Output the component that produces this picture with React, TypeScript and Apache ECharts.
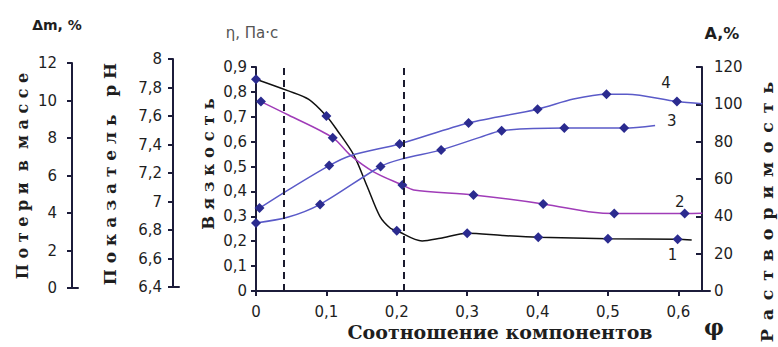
import React, { useEffect, useRef } from "react";
import * as echarts from "echarts";

// ---- data ----
const xTicks = [0, 0.1, 0.2, 0.3, 0.4, 0.5, 0.6];
const dashedX = [0.045, 0.208];

// curve 1 – viscosity (η, Па·с)
const phi1 = [0, 0.046, 0.075, 0.1, 0.115, 0.139, 0.158, 0.176, 0.191, 0.2, 0.236, 0.262, 0.3, 0.35, 0.401, 0.5, 0.599, 0.619];
const val1 = [0.851, 0.804, 0.77, 0.703, 0.647, 0.546, 0.42, 0.3, 0.252, 0.242, 0.201, 0.212, 0.232, 0.223, 0.216, 0.21, 0.208, 0.205];
const dot1 = [1, 0, 0, 1, 0, 0, 0, 0, 0, 1, 0, 0, 1, 0, 1, 1, 1, 0];

// curve 2 – on the η scale
const phi2 = [0.007, 0.046, 0.109, 0.134, 0.167, 0.208, 0.224, 0.309, 0.408, 0.479, 0.509, 0.609, 0.634];
const val2 = [0.761, 0.707, 0.616, 0.546, 0.479, 0.426, 0.406, 0.386, 0.35, 0.316, 0.311, 0.311, 0.312];
const dot2 = [1, 0, 1, 0, 0, 1, 0, 1, 1, 0, 1, 1, 0];

// curve 3 – solubility scale (A, %)
const phi3 = [0, 0.046, 0.091, 0.177, 0.208, 0.263, 0.318, 0.349, 0.438, 0.523, 0.567];
const val3 = [36.4, 39.6, 46.4, 66.7, 70.8, 75.6, 82.3, 85.9, 87.3, 87.3, 88.7];
const dot3 = [1, 0, 1, 1, 0, 1, 0, 1, 1, 1, 0];

// curve 4 – solubility scale (A, %)
const phi4 = [0.005, 0.046, 0.104, 0.134, 0.204, 0.302, 0.4, 0.451, 0.498, 0.527, 0.598, 0.634];
const val4 = [44.4, 54.2, 67.2, 72.5, 78.8, 90.0, 97.4, 102.8, 105.4, 105.4, 101.5, 100.3];
const dot4 = [1, 0, 1, 0, 1, 1, 1, 0, 1, 0, 1, 0];

const curveNames = ["1", "2", "3", "4"];

// ---- styling ----
const AXIS = "#1c1c3a";
const TXT = "#1e1e1e";
const MARK = "#2b2b8f";
const SANS = "DejaVu Sans";
const SERIF = "DejaVu Serif";

const fmt = (v: number) => {
  const r = Math.round(v * 10) / 10;
  return Number.isInteger(r) ? String(r) : r.toFixed(1).replace(".", ",");
};

const spaced = (s: string, gap = " ", wordGap = " \u00a0 ") =>
  s
    .split(" ")
    .map((w) => w.split("").join(gap))
    .join(wordGap);

function build(
  phi: number[],
  val: number[],
  dots: number[],
  labelAt: number,
  labelCfg: any
) {
  return phi.map((x, i) => {
    const item: any = { value: [x, val[i]], symbol: dots[i] ? "diamond" : "none" };
    if (i === labelAt) item.label = labelCfg;
    return item;
  });
}

const lblBase = {
  show: true,
  fontFamily: SANS,
  fontSize: 15,
  color: TXT,
};

const axisCommon = {
  splitLine: { show: false },
  axisLine: { show: true, onZero: false, lineStyle: { color: AXIS, width: 2 } },
  axisTick: { show: true, length: 5, lineStyle: { color: AXIS, width: 2 } },
  axisLabel: { fontFamily: SANS, fontSize: 15, color: TXT, formatter: fmt },
};

const stubX = (gridIndex: number) => ({
  type: "value",
  gridIndex,
  min: 0,
  max: 1,
  splitLine: { show: false },
  axisLine: { show: true, onZero: false, lineStyle: { color: AXIS, width: 2 } },
  axisTick: { show: false },
  axisLabel: { show: false },
});

const option: any = {
  animation: false,
  backgroundColor: "#ffffff",
  grid: [
    { left: 256, right: 68, top: 67, bottom: 56 },
    { left: 72, top: 63, width: 6, height: 225 },
    { left: 173, top: 59, width: 6, height: 228 },
  ],
  xAxis: [
    {
      ...axisCommon,
      type: "value",
      gridIndex: 0,
      min: 0,
      max: 0.645,
      interval: 0.1,
      axisTick: { ...axisCommon.axisTick, customValues: xTicks },
      axisLabel: {
        ...axisCommon.axisLabel,
        margin: 13,
        customValues: xTicks,
        formatter: (v: number) =>
          xTicks.some((t) => Math.abs(t - v) < 1e-6) ? fmt(v) : "",
      },
    },
    stubX(1),
    stubX(2),
  ],
  yAxis: [
    {
      ...axisCommon,
      type: "value",
      gridIndex: 0,
      position: "left",
      min: 0,
      max: 0.9,
      interval: 0.1,
      axisLabel: { ...axisCommon.axisLabel, margin: 9 },
    },
    {
      ...axisCommon,
      type: "value",
      gridIndex: 0,
      position: "right",
      offset: -8,
      min: 0,
      max: 120,
      interval: 20,
      axisTick: { ...axisCommon.axisTick, inside: true, length: 6 },
      axisLabel: { ...axisCommon.axisLabel, margin: 12 },
    },
    {
      ...axisCommon,
      type: "value",
      gridIndex: 1,
      position: "left",
      min: 0,
      max: 12,
      interval: 2,
      axisLabel: { ...axisCommon.axisLabel, margin: 15 },
    },
    {
      ...axisCommon,
      type: "value",
      gridIndex: 2,
      position: "left",
      min: 6.4,
      max: 8,
      interval: 0.2,
      axisLabel: { ...axisCommon.axisLabel, margin: 11 },
    },
  ],
  series: [
    {
      name: curveNames[0],
      type: "line",
      xAxisIndex: 0,
      yAxisIndex: 0,
      smooth: 0.3,
      symbolSize: 10,
      itemStyle: { color: MARK },
      lineStyle: { color: "#111111", width: 1.5 },
      data: build(phi1, val1, dot1, 16, {
        ...lblBase,
        formatter: curveNames[0],
        position: "bottom",
        offset: [-5, -2],
      }),
      markLine: {
        silent: true,
        symbol: ["none", "none"],
        label: { show: false },
        lineStyle: { type: [7, 5], width: 2, color: "#1a1a2e" },
        data: dashedX.map((v) => ({ xAxis: v })),
      },
      z: 3,
    },
    {
      name: curveNames[1],
      type: "line",
      xAxisIndex: 0,
      yAxisIndex: 0,
      smooth: 0.3,
      symbolSize: 10,
      itemStyle: { color: MARK },
      lineStyle: { color: "#a03cb8", width: 1.5 },
      data: build(phi2, val2, dot2, 11, {
        ...lblBase,
        formatter: curveNames[1],
        position: "top",
        offset: [-5, 6],
      }),
      z: 3,
    },
    {
      name: curveNames[2],
      type: "line",
      xAxisIndex: 0,
      yAxisIndex: 1,
      smooth: 0.3,
      symbolSize: 10,
      itemStyle: { color: MARK },
      lineStyle: { color: "#5a5ac8", width: 1.5 },
      data: build(phi3, val3, dot3, -1, null),
      endLabel: {
        ...lblBase,
        formatter: curveNames[2],
        distance: 12,
        offset: [0, -4],
      },
      z: 3,
    },
    {
      name: curveNames[3],
      type: "line",
      xAxisIndex: 0,
      yAxisIndex: 1,
      smooth: 0.3,
      symbolSize: 10,
      itemStyle: { color: MARK },
      lineStyle: { color: "#5a5ac8", width: 1.5 },
      data: build(phi4, val4, dot4, 10, {
        ...lblBase,
        formatter: curveNames[3],
        position: "top",
        offset: [-11, -1],
      }),
      z: 3,
    },
  ],
  graphic: [
    {
      type: "text",
      x: 57,
      y: 25,
      style: { text: "Δm, %", fontFamily: SANS, fontWeight: "bold", fontSize: 14, fill: TXT, align: "center", verticalAlign: "middle" },
    },
    {
      type: "text",
      x: 252,
      y: 33,
      style: { text: "η, Па·с", fontFamily: SANS, fontSize: 15, fill: "#555555", align: "center", verticalAlign: "middle" },
    },
    {
      type: "text",
      x: 722,
      y: 33,
      style: { text: "A,%", fontFamily: SANS, fontWeight: "bold", fontSize: 16, fill: TXT, align: "center", verticalAlign: "middle" },
    },
    {
      type: "text",
      x: 22,
      y: 176,
      rotation: Math.PI / 2,
      style: { text: spaced("Потери в массе", " ", " \u00a0"), fontFamily: SERIF, fontWeight: "bold", fontSize: 16, fill: TXT, align: "center", verticalAlign: "middle" },
    },
    {
      type: "text",
      x: 110,
      y: 174,
      rotation: Math.PI / 2,
      style: { text: spaced("Показатель pH"), fontFamily: SERIF, fontWeight: "bold", fontSize: 17, fill: TXT, align: "center", verticalAlign: "middle" },
    },
    {
      type: "text",
      x: 208,
      y: 164,
      rotation: Math.PI / 2,
      style: { text: spaced("Вязкость"), fontFamily: SERIF, fontWeight: "bold", fontSize: 16.5, fill: TXT, align: "center", verticalAlign: "middle" },
    },
    {
      type: "text",
      x: 767,
      y: 212,
      rotation: Math.PI / 2,
      style: { text: spaced("Растворимость", "\u2002"), fontFamily: SERIF, fontWeight: "bold", fontSize: 17.5, fill: TXT, align: "center", verticalAlign: "middle" },
    },
    {
      type: "text",
      x: 500,
      y: 332,
      style: { text: "Соотношение компонентов", fontFamily: SERIF, fontWeight: "bold", fontSize: 19, fill: TXT, align: "center", verticalAlign: "middle" },
    },
    {
      type: "text",
      x: 714,
      y: 327,
      style: { text: "φ", fontFamily: SERIF, fontWeight: "bold", fontSize: 22, fill: TXT, align: "center", verticalAlign: "middle" },
    },
  ],
};

export default function App() {
  const ref = useRef<HTMLDivElement>(null);
  useEffect(() => {
    if (!ref.current) return;
    const chart = echarts.init(ref.current, null, { renderer: "svg" });
    chart.setOption(option);
    return () => chart.dispose();
  }, []);
  return (
    <div
      ref={ref}
      style={{ position: "fixed", left: 0, top: 0, width: 778, height: 347, background: "#fff" }}
    />
  );
}
